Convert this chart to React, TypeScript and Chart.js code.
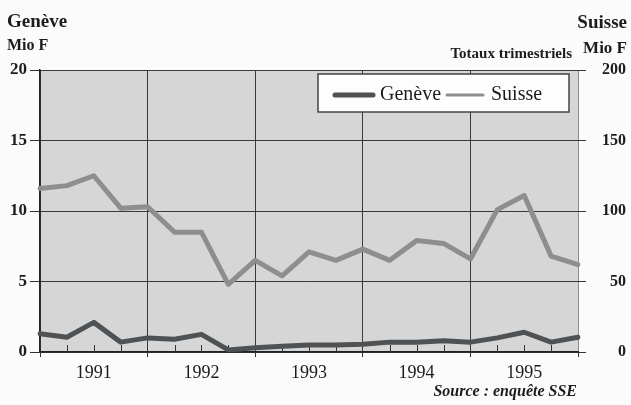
import React, { useEffect, useRef } from 'react';
import { Chart, registerables } from 'chart.js';

Chart.register(...registerables);

// ---- data ----
const quarters = [
  '1990-IV',
  '1991-I', '1991-II', '1991-III', '1991-IV',
  '1992-I', '1992-II', '1992-III', '1992-IV',
  '1993-I', '1993-II', '1993-III', '1993-IV',
  '1994-I', '1994-II', '1994-III', '1994-IV',
  '1995-I', '1995-II', '1995-III', '1995-IV',
];
const years = ['1991', '1992', '1993', '1994', '1995'];
const geneve = [1.3, 1.05, 2.1, 0.7, 1.0, 0.9, 1.25, 0.15, 0.3, 0.4, 0.5, 0.5, 0.55, 0.7, 0.7, 0.8, 0.7, 1.0, 1.4, 0.7, 1.05];
const suisse = [116, 118, 125, 102, 103, 85, 85, 48, 65, 54, 71, 65, 73, 65, 79, 77, 66, 101, 111, 68, 62];
const leftTitle = ['Genève', 'Mio F'];
const rightTitle = ['Suisse', 'Mio F'];
const subTitle = 'Totaux trimestriels';
const sourceText = 'Source : enquête SSE';

const SERIF = "'Liberation Serif', 'Times New Roman', serif";
const INK = '#1c1c1c';
const GRID = '#3a3a3a';
const GENEVE_COLOR = '#4e5254';
const SUISSE_COLOR = '#8e8e8e';
const PLOT_BG = '#d6d6d6';

const decorPlugin = {
  id: 'decor',
  beforeDraw(chart: any) {
    const { ctx, chartArea: a, width, height } = chart;
    ctx.save();
    ctx.fillStyle = '#fbfbfb';
    ctx.fillRect(0, 0, width, height);
    ctx.fillStyle = PLOT_BG;
    ctx.fillRect(a.left, a.top, a.right - a.left, a.bottom - a.top);
    ctx.restore();
  },
  beforeDatasetsDraw(chart: any) {
    const { ctx, chartArea: a } = chart;
    const xs = chart.scales.x;
    ctx.save();
    ctx.strokeStyle = '#333';
    ctx.lineWidth = 1;
    for (let i = 0; i < quarters.length; i++) {
      if (i % 4 === 0) continue;
      const px = Math.round(xs.getPixelForValue(i)) + 0.5;
      ctx.beginPath();
      ctx.moveTo(px, a.bottom);
      ctx.lineTo(px, a.bottom - 7);
      ctx.stroke();
    }
    ctx.restore();
  },
  afterDraw(chart: any) {
    const { ctx, chartArea: a } = chart;
    ctx.save();
    ctx.fillStyle = INK;
    ctx.textBaseline = 'alphabetic';
    // left titles
    ctx.textAlign = 'left';
    ctx.font = `bold 19px ${SERIF}`;
    ctx.fillText(leftTitle[0], 7, 27);
    ctx.font = `bold 16px ${SERIF}`;
    ctx.fillText(leftTitle[1], 7, 50);
    // right titles
    ctx.textAlign = 'right';
    ctx.font = `bold 19px ${SERIF}`;
    ctx.fillText(rightTitle[0], 627, 28);
    ctx.font = `bold 17px ${SERIF}`;
    ctx.fillText(rightTitle[1], 627, 53);
    ctx.font = `bold 15px ${SERIF}`;
    ctx.fillText(subTitle, 572, 58);
    // source
    ctx.font = `italic bold 16px ${SERIF}`;
    ctx.fillText(sourceText, a.right - 1, 396);

    // legend box
    const bx = 318, by = 74, bw = 251, bh = 38;
    ctx.fillStyle = '#fdfdfd';
    ctx.fillRect(bx, by, bw, bh);
    ctx.strokeStyle = '#444';
    ctx.lineWidth = 1.5;
    ctx.strokeRect(bx, by, bw, bh);
    const ds = chart.data.datasets;
    const items = [
      { x0: 335, x1: 373, tx: 380, d: ds[0], w: 5 },
      { x0: 447, x1: 483, tx: 491, d: ds[1], w: 3 },
    ];
    ctx.lineCap = 'round';
    for (const it of items) {
      ctx.strokeStyle = it.d.borderColor;
      ctx.lineWidth = it.w;
      ctx.beginPath();
      ctx.moveTo(it.x0, 95);
      ctx.lineTo(it.x1, 95);
      ctx.stroke();
      ctx.fillStyle = INK;
      ctx.textAlign = 'left';
      ctx.font = `20px ${SERIF}`;
      ctx.fillText(it.d.label, it.tx, 100);
    }
    ctx.restore();
  },
};

export default function App() {
  const ref = useRef<HTMLCanvasElement | null>(null);

  useEffect(() => {
    if (!ref.current) return;
    const chart = new Chart(ref.current, {
      type: 'line',
      data: {
        labels: quarters,
        datasets: [
          {
            label: 'Genève',
            data: geneve,
            yAxisID: 'y',
            borderColor: GENEVE_COLOR,
            borderWidth: 5,
            pointRadius: 0,
            tension: 0,
            borderJoinStyle: 'round',
            borderCapStyle: 'round',
          },
          {
            label: 'Suisse',
            data: suisse,
            yAxisID: 'y1',
            borderColor: SUISSE_COLOR,
            borderWidth: 5,
            pointRadius: 0,
            tension: 0,
            borderJoinStyle: 'round',
            borderCapStyle: 'round',
          },
        ],
      },
      options: {
        responsive: false,
        animation: false,
        layout: { padding: { top: 70, left: 0, right: 5, bottom: 0 } },
        plugins: {
          legend: { display: false },
          tooltip: { enabled: false },
          title: { display: false },
        },
        scales: {
          x: {
            type: 'category',
            offset: false,
            grid: {
              color: (c: any) => (c.index % 4 === 0 ? (c.index === 20 ? '#8a8a8a' : GRID) : 'rgba(0,0,0,0)'),
              lineWidth: 1,
              drawTicks: true,
              tickLength: 5,
              tickColor: (c: any) => (c.index % 4 === 0 ? '#333' : 'rgba(0,0,0,0)'),
            },
            border: { display: true, color: '#222', width: 1.5 },
            ticks: {
              autoSkip: false,
              maxRotation: 0,
              minRotation: 0,
              padding: 5,
              color: INK,
              font: { family: SERIF, size: 18 },
              callback: (_v: any, i: number) => (i % 4 === 2 ? years[(i - 2) / 4] : ''),
            },
            afterFit: (s: any) => { s.height = 53; },
          },
          y: {
            position: 'left',
            min: 0,
            max: 20,
            ticks: {
              stepSize: 5,
              padding: 3,
              color: INK,
              font: { family: SERIF, size: 17, weight: 'bold' },
            },
            grid: { color: GRID, lineWidth: 1, tickLength: 10, tickColor: '#333' },
            border: { display: true, color: '#222', width: 1.5 },
            afterFit: (s: any) => { s.width = 40; },
          },
          y1: {
            position: 'right',
            min: 0,
            max: 200,
            ticks: {
              stepSize: 50,
              padding: 10,
              crossAlign: 'far',
              color: INK,
              font: { family: SERIF, size: 16, weight: 'bold' },
            },
            grid: { drawOnChartArea: false, tickLength: 8, tickColor: '#333' },
            border: { display: false },
            afterFit: (s: any) => { s.width = 48; },
          },
        },
      },
      plugins: [decorPlugin],
    } as any);
    return () => chart.destroy();
  }, []);

  return (
    <div style={{ position: 'fixed', left: 0, top: 0, width: 631, height: 405, background: '#fbfbfb' }}>
      <canvas ref={ref} width={631} height={405} style={{ display: 'block', width: 631, height: 405 }} />
    </div>
  );
}
